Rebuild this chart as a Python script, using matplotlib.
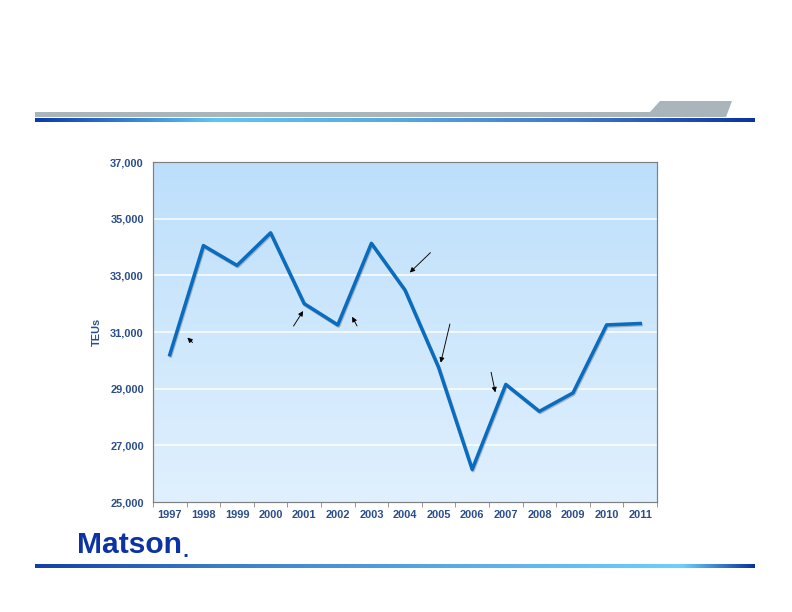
import numpy as np
import matplotlib
matplotlib.use("Agg")
import matplotlib.pyplot as plt
import matplotlib.patheffects as pe
from matplotlib.colors import LinearSegmentedColormap
from matplotlib.patches import Polygon

years = ["1997", "1998", "1999", "2000", "2001", "2002", "2003", "2004",
         "2005", "2006", "2007", "2008", "2009", "2010", "2011"]
teus = [30200, 34050, 33350, 34500, 32000, 31250, 34130, 32480,
        29750, 26150, 29150, 28200, 28850, 31250, 31300]
y_ticks = [25000, 27000, 29000, 31000, 33000, 35000, 37000]

# arrow annotations (tail -> head), in data units (category index, TEUs)
arrows = [((0.72, 30580), (0.48, 30850)),
          ((3.65, 31150), (4.0, 31800)),
          ((5.6, 31150), (5.4, 31600)),
          ((7.8, 33850), (7.1, 33050)),
          ((8.35, 31350), (8.05, 29850)),
          ((9.55, 29650), (9.7, 28800))]

label_color = "#2b4d8c"
line_color = "#0a6cbf"
label_font = ["Liberation Sans Narrow", "Liberation Sans", "DejaVu Sans"]

fig = plt.figure(figsize=(11, 8.5), dpi=72)

# page decoration layer in pixel coords
bg = fig.add_axes([0, 0, 1, 1])
bg.set_xlim(0, 792)
bg.set_ylim(612, 0)
bg.axis("off")

# grey header bar with slanted tab
bg.add_patch(Polygon([(35, 112), (650, 112), (660, 101), (732, 101),
                      (726, 117), (35, 117)], closed=True,
                     facecolor="#a9b5bb", edgecolor="none"))

bar_cmap = LinearSegmentedColormap.from_list(
    "bar", ["#0b3aa8", "#5cc6f5", "#57a9e3", "#3f78c8", "#0b34a0"])
grad = np.linspace(0, 1, 256).reshape(1, -1)
bg.imshow(grad, cmap=bar_cmap, extent=(35, 755, 122, 118), aspect="auto")
bottom_cmap = LinearSegmentedColormap.from_list(
    "bottom", [(0, "#1240a8"), (0.25, "#3a7cc8"), (0.6, "#5aaee6"),
               (0.9, "#6dd0fa"), (1.0, "#0b34a0")])
bg.imshow(grad, cmap=bottom_cmap, extent=(35, 755, 568, 564), aspect="auto")

logo = bg.text(77, 553, "Matson", fontsize=30, fontweight="bold",
               color="#0b33a3", family="Liberation Sans",
               va="baseline", ha="left")
bg.annotate(".", xy=(1, 0), xycoords=logo, xytext=(0, -1),
            textcoords="offset points", fontsize=16, fontweight="bold",
            color="#0b33a3", va="bottom", ha="left")

# main chart
ax = fig.add_axes([153 / 792, 110 / 612, 504 / 792, 340 / 612])
x = np.arange(len(years))
ax.set_xlim(-0.5, len(years) - 0.5)
ax.set_ylim(25000, 37000)

fill_cmap = LinearSegmentedColormap.from_list("fill", ["#e0f0fe", "#bddffb"])
ax.imshow(np.linspace(0, 1, 256).reshape(-1, 1), cmap=fill_cmap,
          origin="lower", extent=(-0.5, len(years) - 0.5, 25000, 37000),
          aspect="auto", zorder=0)

for yt in y_ticks[1:-1]:
    ax.axhline(yt, color="white", lw=1.5, zorder=1)

ax.plot(x, teus, color=line_color, lw=3.5, zorder=3,
        path_effects=[pe.SimpleLineShadow(offset=(0.8, -1.2),
                                          shadow_color="#505050", alpha=0.35),
                      pe.Normal()])

for tail, head in arrows:
    ax.annotate("", xy=head, xytext=tail,
                arrowprops=dict(arrowstyle="-|>", color="black", lw=0.9,
                                mutation_scale=10), zorder=4)

ax.set_yticks(y_ticks)
ax.set_yticklabels([f"{v:,}" for v in y_ticks])
ax.set_xticks(np.arange(len(years) + 1) - 0.5, minor=False)
ax.set_xticklabels([])
ax.set_xticks(x, minor=True)
ax.set_xticklabels(years, minor=True)
ax.tick_params(axis="x", which="major", length=5, color="#808080",
               direction="out")
ax.tick_params(axis="x", which="minor", length=0, pad=8)
ax.tick_params(axis="y", length=0, pad=9)
for lbl in ax.get_xticklabels(minor=True) + ax.get_yticklabels():
    lbl.set_color(label_color)
    lbl.set_fontweight("bold")
    lbl.set_fontsize(11)
    lbl.set_family(label_font)

ax.set_ylabel("TEUs", color=label_color, fontweight="bold", fontsize=11,
              family=label_font, labelpad=8)
for s in ax.spines.values():
    s.set_color("#808080")
    s.set_linewidth(1.2)

fig.savefig("out.png", dpi=72)
